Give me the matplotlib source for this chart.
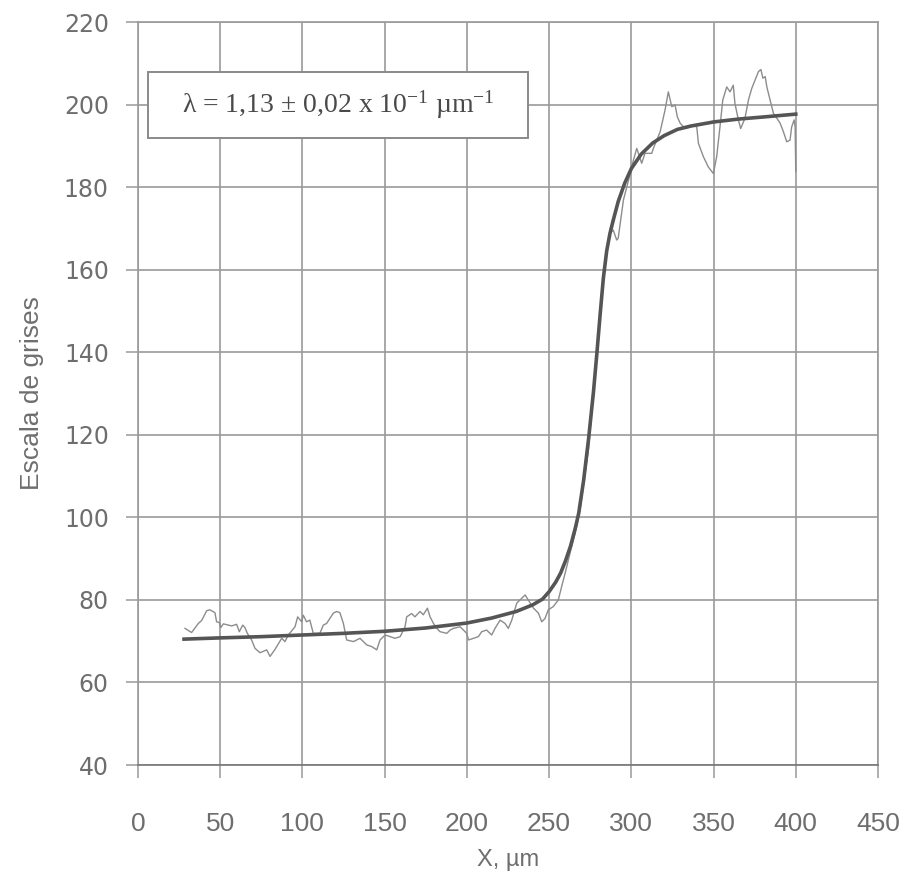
import numpy as np
import matplotlib.pyplot as plt
from matplotlib.patches import Rectangle

# --- datos ---
# perfil medido (escala de grises)
x_med = [28.6, 32.6, 36.7, 38.7, 41.8, 43.8, 46.8, 47.8, 49.5, 50.3, 51.9, 57.0, 60.0, 61.6,
         63.7, 65.0, 66.5, 69.1, 71.1, 74.2, 78.3, 80.3, 83.3, 87.4, 89.4, 91.4, 95.5, 97.1,
         99.5, 100.5, 102.5, 104.5, 106.6, 110.6, 112.7, 114.7, 118.8, 120.8, 122.8, 124.9,
         126.9, 131.0, 135.0, 139.1, 142.1, 145.2, 147.2, 150.3, 153.3, 156.3, 159.4, 162.4,
         163.4, 166.4, 168.4, 171.5, 173.5, 176.0, 177.6, 179.7, 181.7, 183.7, 187.8, 189.8,
         191.8, 195.9, 199.9, 201.0, 204.0, 207.0, 209.0, 212.0, 215.1, 217.1, 220.2, 223.2,
         225.2, 227.3, 230.3, 235.4, 240.5, 243.5, 245.5, 247.5, 249.5, 252.6, 255.6, 257.6,
         259.7, 262.7, 265.8, 268.8, 273.9, 279.0, 283.0, 287.0, 289.0, 291.1, 292.0, 295.2,
         298.3, 301.3, 303.3, 306.3, 308.3, 312.4, 313.4, 317.5, 320.5, 322.5, 324.6, 326.6,
         328.0, 329.7, 332.7, 335.8, 337.8, 339.8, 340.8, 343.8, 346.8, 349.9, 351.9, 353.9,
         355.6, 358.0, 360.0, 362.0, 363.0, 365.1, 366.5, 369.1, 371.2, 373.2, 375.3, 377.3,
         378.8, 380.0, 381.4, 382.4, 384.4, 386.4, 388.5, 390.5, 392.5, 394.5, 396.5, 397.5,
         399.0, 399.6, 400.0]
y_med = [73.1, 72.1, 74.3, 75.0, 77.4, 77.6, 76.9, 74.7, 74.5, 73.3, 74.2, 73.7, 74.1, 72.3,
         73.9, 73.3, 71.9, 70.3, 68.3, 67.2, 67.9, 66.3, 68.0, 70.7, 69.9, 71.5, 73.5, 75.9,
         74.7, 76.3, 74.7, 75.1, 71.9, 71.9, 73.9, 74.3, 76.8, 77.2, 76.9, 74.3,
         70.3, 69.9, 70.7, 69.1, 68.7, 67.9, 70.3, 71.5, 71.1, 70.7, 71.1, 73.5,
         75.9, 76.7, 75.9, 77.2, 76.4, 78.0, 75.9, 74.3, 73.1, 72.3, 71.9, 72.7,
         73.1, 73.5, 71.9, 70.3, 70.7, 71.1, 72.3, 72.7, 71.5, 73.1, 75.1, 74.3,
         73.1, 75.1, 79.2, 81.2, 78.0, 76.8, 74.7, 75.5, 77.6, 78.4, 80.0, 83.2,
         86.4, 91.3, 96.1, 101.8, 116.3, 139.7, 159.1, 168.8, 169.6, 167.2, 167.6, 176.9,
         181.7, 186.6, 189.4, 185.8, 188.2, 188.2, 189.4, 193.4, 198.7, 203.1, 199.5, 199.9,
         197.0, 195.5, 194.2, 194.6, 195.0, 194.6, 190.6, 187.4, 184.9, 183.3, 187.4, 194.6,
         201.1, 204.3, 203.1, 204.7, 200.3, 196.3, 194.2, 196.7, 201.1, 203.9, 206.0, 208.0,
         208.5, 206.4, 206.8, 204.3, 201.1, 197.9, 196.7, 195.5, 193.4, 191.0, 191.4, 194.6,
         196.3, 194.6, 183.8]

# curva ajustada
x_fit = [28, 50, 75, 100, 125, 150, 175, 200, 215, 230, 240, 246, 250, 254, 257, 260, 263,
         266, 268, 271, 274, 277, 279, 281, 283, 285, 287, 289, 292, 296, 300, 306, 313,
         320, 328, 336, 350, 365, 380, 400]
y_fit = [70.5, 70.8, 71.1, 71.5, 71.9, 72.4, 73.2, 74.4, 75.6, 77.2, 78.8, 80.2, 82.0,
         84.3, 86.5, 89.5, 93.0, 97.5, 101.0, 109.0, 119.0, 130.5, 139.5, 149.0, 158.0,
         164.5, 168.8, 172.0, 176.5, 181.0, 184.5, 188.0, 190.7, 192.5, 194.0, 194.8,
         195.8, 196.5, 197.0, 197.7]

x_ticks = [0, 50, 100, 150, 200, 250, 300, 350, 400, 450]
y_ticks = [40, 60, 80, 100, 120, 140, 160, 180, 200, 220]
etiqueta = 'λ = 1,13 ± 0,02 x 10$^{-1}$ µm$^{-1}$'

plt.rcParams['mathtext.fontset'] = 'custom'
plt.rcParams['mathtext.rm'] = 'Liberation Serif'
plt.rcParams['mathtext.it'] = 'Liberation Serif'
plt.rcParams['mathtext.sf'] = 'Liberation Serif'
plt.rcParams['mathtext.default'] = 'rm'

narrow = ['Liberation Sans Narrow', 'Liberation Sans', 'DejaVu Sans']
txt_col = '#6e6e6e'
grid_col = '#9a9a9a'

fig = plt.figure(figsize=(9.06, 8.73), dpi=100)
ax = fig.add_axes([0.1523, 0.1237, 0.8168, 0.851])

ax.plot(x_med, y_med, color='#8c8c8c', lw=1.0, zorder=3)
ax.plot(x_fit, y_fit, color='#555555', lw=2.6, zorder=4)

ax.set_xlim(0, 450)
ax.set_ylim(40, 220)
ax.set_xticks(x_ticks)
ax.set_yticks(y_ticks)
ax.grid(True, color=grid_col, lw=1.2)
ax.set_axisbelow(True)
for s in ax.spines.values():
    s.set_color(grid_col)
    s.set_linewidth(1.2)
ax.spines['bottom'].set_color('#777777')

ax.tick_params(axis='both', direction='out', length=9, width=1.1, color=grid_col,
               labelcolor=txt_col)
ax.tick_params(axis='x', pad=25)
ax.tick_params(axis='y', pad=12)
for lab in ax.get_xticklabels():
    lab.set_family(narrow)
    lab.set_fontsize(19)
for lab in ax.get_yticklabels():
    lab.set_family('DejaVu Sans')
    lab.set_fontsize(17)

ax.set_xlabel('X, µm', family=narrow, fontsize=17, color=txt_col, labelpad=9)
ax.set_ylabel('Escala de grises', family=narrow, fontsize=19, color=txt_col, labelpad=14)

# recuadro con el valor de lambda
ax.add_patch(Rectangle((0.0135, 0.844), 0.5135, 0.089, transform=ax.transAxes,
                       fc='white', ec='#8a8a8a', lw=1.4, zorder=5))
ax.text(0.2703, 0.8883, etiqueta, transform=ax.transAxes, ha='center', va='center',
        family='Liberation Serif', fontsize=20, color='#4a4a4a', zorder=6)

fig.savefig('out.png', dpi=100)
